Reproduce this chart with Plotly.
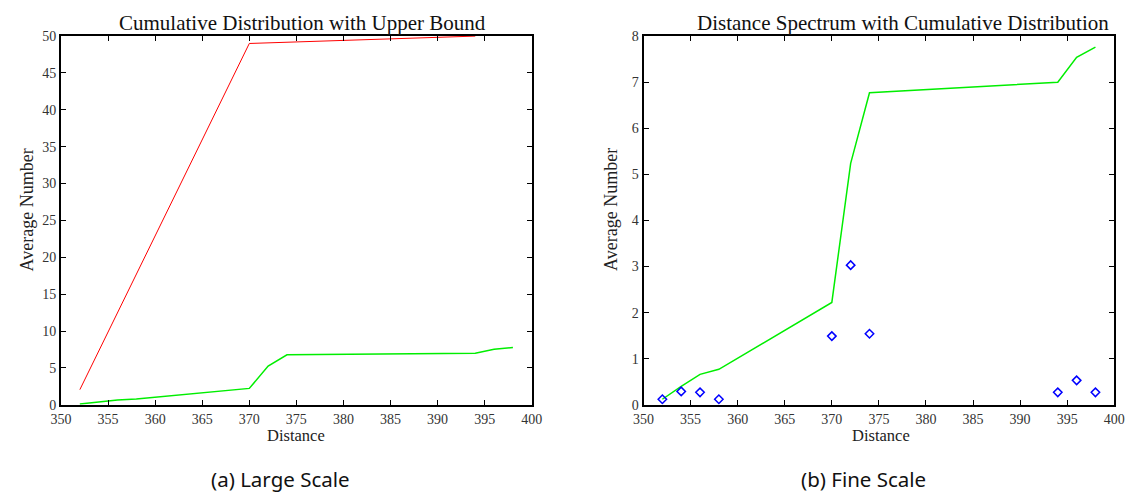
import plotly.graph_objects as go

# Distance values where codeword weights occur
distance = [352, 354, 356, 358, 370, 372, 374, 394, 396, 398]
# Average number of codewords at each distance (spectrum)
spectrum = [0.12, 0.29, 0.27, 0.12, 1.49, 3.03, 1.54, 0.27, 0.53, 0.27]
# Cumulative distribution of the spectrum
cumulative = [0.12, 0.40, 0.66, 0.77, 2.22, 5.24, 6.77, 7.00, 7.54, 7.76]
# Upper bound on the cumulative distribution
bound_distance = [352, 370, 394]
bound_values = [2.05, 49.0, 50.0]

x_ticks = list(range(350, 401, 5))
y_ticks_large = list(range(0, 51, 5))
y_ticks_fine = list(range(0, 9))

W, H = 1139, 503
SERIF = "Liberation Serif, DejaVu Serif, serif"
SANS = "Noto Sans, Open Sans, sans-serif"


def px(x):
    return x / W


def py(y):
    return 1 - y / H


fig = go.Figure()

fig.add_trace(go.Scatter(x=bound_distance, y=bound_values, mode="lines",
                         line=dict(color="#ff0000", width=1),
                         xaxis="x", yaxis="y", showlegend=False))
fig.add_trace(go.Scatter(x=distance, y=cumulative, mode="lines",
                         line=dict(color="#00ee00", width=1.5),
                         xaxis="x", yaxis="y", showlegend=False))

fig.add_trace(go.Scatter(x=distance, y=cumulative, mode="lines",
                         line=dict(color="#00ee00", width=1.5),
                         xaxis="x2", yaxis="y2", showlegend=False))
fig.add_trace(go.Scatter(x=distance, y=spectrum, mode="markers",
                         marker=dict(symbol="diamond-open", size=6.5,
                                     color="#0000ff", line=dict(width=1.5)),
                         xaxis="x2", yaxis="y2", showlegend=False))

axis_common = dict(
    showline=True, linecolor="black", linewidth=2, mirror="allticks",
    ticks="inside", ticklen=5, tickwidth=1, tickcolor="black",
    showgrid=False, zeroline=False,
    tickfont=dict(family=SERIF, size=14, color="#333333"),
)

y_top, y_bot = 30, 410
fig.update_layout(
    width=W, height=H,
    margin=dict(l=0, r=0, t=0, b=0),
    paper_bgcolor="white", plot_bgcolor="white",
    xaxis=dict(domain=[px(51), px(531)], range=[350, 400],
               tickvals=x_ticks, anchor="y", **axis_common),
    yaxis=dict(domain=[py(y_bot), py(y_top)], range=[0, 50],
               tickvals=y_ticks_large, anchor="x", **axis_common),
    xaxis2=dict(domain=[px(645), px(1125)], range=[350, 400],
                tickvals=x_ticks, anchor="y2", **axis_common),
    yaxis2=dict(domain=[py(y_bot), py(y_top)], range=[0, 8],
                tickvals=y_ticks_fine, anchor="x2", **axis_common),
)

annotations = [
    # panel titles
    dict(text="Cumulative Distribution with Upper Bound", x=px(297), y=py(16),
         font=dict(family=SERIF, size=21, color="#111111")),
    dict(text="Distance Spectrum with Cumulative Distribution", x=px(910), y=py(16),
         font=dict(family=SERIF, size=21, color="#111111")),
    # axis titles
    dict(text="Distance", x=px(291), y=py(442),
         font=dict(family=SERIF, size=16.5, color="#222222")),
    dict(text="Distance", x=px(887), y=py(442),
         font=dict(family=SERIF, size=16.5, color="#222222")),
    dict(text="Average Number", x=px(16), y=py(209), textangle=-90,
         font=dict(family=SERIF, size=18, color="#222222")),
    dict(text="Average Number", x=px(612), y=py(209), textangle=-90,
         font=dict(family=SERIF, size=18, color="#222222")),
    # captions
    dict(text="(a) Large Scale", x=px(275), y=py(486),
         font=dict(family=SANS, size=20.5, color="#111111")),
    dict(text="(b) Fine Scale", x=px(869), y=py(486),
         font=dict(family=SANS, size=20.5, color="#111111")),
]
for a in annotations:
    a.update(xref="paper", yref="paper", showarrow=False,
             xanchor="center", yanchor="middle")
fig.update_layout(annotations=annotations)

fig.write_html("out.html")
